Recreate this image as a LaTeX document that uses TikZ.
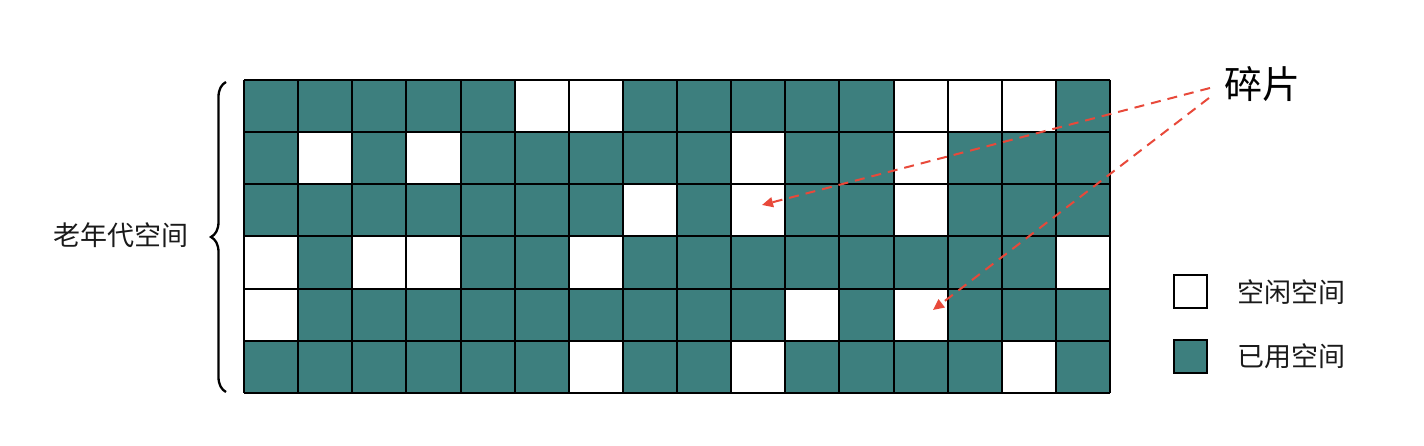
\documentclass[tikz,border=0pt]{standalone}
\usepackage{fontspec}
\newfontfamily\cjk{Noto Sans CJK SC}
\usetikzlibrary{arrows.meta,decorations.pathreplacing}
\definecolor{used}{HTML}{3D7F7E}
\definecolor{fragred}{HTML}{E8493A}
\definecolor{txt}{HTML}{1A1A1A}
\tikzset{
  cellused/.style={fill=used},
  cellfree/.style={fill=white},
  gridline/.style={draw=black,line width=2pt},
  fragarrow/.style={draw=fragred,line width=2pt,dash pattern=on 10pt off 7pt,-{Triangle[length=11pt,width=10pt]}},
  lbl/.style={font=\cjk\fontsize{27}{30}\selectfont,text=txt,inner sep=0pt},
  biglbl/.style={font=\cjk\fontsize{38}{42}\selectfont,text=black,inner sep=0pt},
  legendbox/.style={draw=black,line width=2pt,minimum width=33pt,minimum height=33pt,inner sep=0pt}
}
\begin{document}
\begin{tikzpicture}[x=1pt,y=-1pt]
\useasboundingbox (0,0) rectangle (1424,446);
% grid
\def\xo{244}\def\yo{80}\def\cw{54.125}\def\ch{52.1667}
\foreach \row [count=\r from 0] in {
  {0,0,0,0,0,1,1,0,0,0,0,0,1,1,1,0},
  {0,1,0,1,0,0,0,0,0,1,0,0,1,0,0,0},
  {0,0,0,0,0,0,0,1,0,1,0,0,1,0,0,0},
  {1,0,1,1,0,0,1,0,0,0,0,0,0,0,0,1},
  {1,0,0,0,0,0,0,0,0,0,1,0,1,0,0,0},
  {0,0,0,0,0,0,1,0,0,1,0,0,0,0,1,0}} {
  \foreach \v [count=\c from 0] in \row {
    \ifnum\v=1
      \fill[cellfree] ({\xo+\c*\cw},{\yo+\r*\ch}) rectangle ++(\cw,\ch);
    \else
      \fill[cellused] ({\xo+\c*\cw},{\yo+\r*\ch}) rectangle ++(\cw,\ch);
    \fi
  }
}
\foreach \c in {0,...,16} \draw[gridline] ({\xo+\c*\cw},\yo) -- ({\xo+\c*\cw},{\yo+6*\ch});
\foreach \r in {0,...,6} \draw[gridline] (\xo,{\yo+\r*\ch}) -- ({\xo+16*\cw},{\yo+\r*\ch});
% brace and label
\draw[line width=2.3pt,decorate,decoration={brace,amplitude=15pt}] (226,392) -- (226,82);
\node[lbl,anchor=center] (old) at (121,235) {老年代空间};
% fragments
\node[biglbl,anchor=center] (frag) at (1262,84) {碎片};
\coordinate (s1) at (1210,88);
\coordinate (s2) at (1209,98);
\coordinate (t1) at (762,205);
\coordinate (t2) at (933,310);
\draw[fragarrow] (s1) -- (t1);
\draw[fragarrow] (s2) -- (t2);
% legend
\node[legendbox,fill=white] (lfree) at (1190,292) {};
\node[legendbox,fill=used] (lused) at (1190,356) {};
\node[lbl,anchor=west] (tfree) at (1237,292) {空闲空间};
\node[lbl,anchor=west] (tused) at (1237,356) {已用空间};
\end{tikzpicture}
\end{document}
